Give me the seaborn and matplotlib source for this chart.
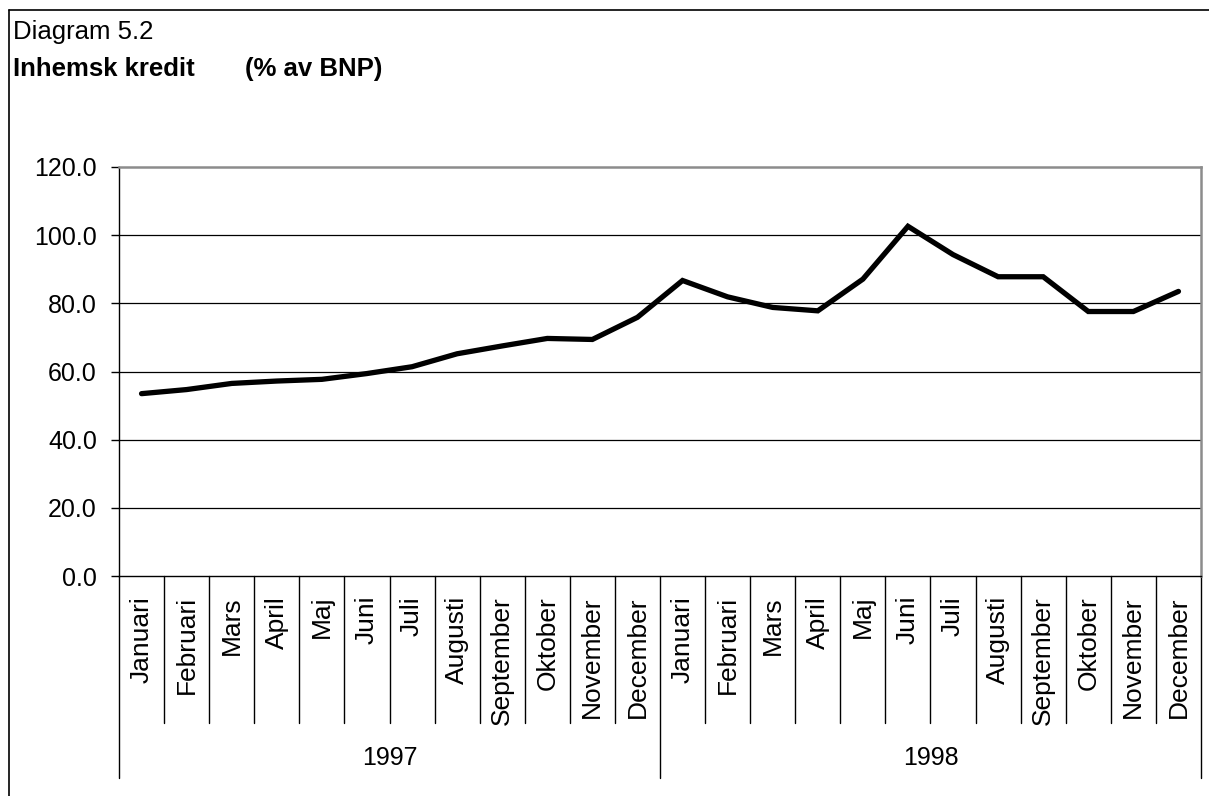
import matplotlib
matplotlib.use("Agg")
import matplotlib.pyplot as plt
from matplotlib.lines import Line2D
import numpy as np
import pandas as pd
import seaborn as sns

# Monthly domestic credit, % of GDP
months = ["Januari", "Februari", "Mars", "April", "Maj", "Juni", "Juli",
          "Augusti", "September", "Oktober", "November", "December"]
years = ["1997", "1998"]
credit_1997 = [53.5, 54.7, 56.5, 57.2, 57.7, 59.4, 61.4, 65.2, 67.5, 69.7, 69.4, 75.9]
credit_1998 = [86.7, 81.9, 78.8, 77.8, 87.1, 102.6, 94.3, 87.8, 87.8, 77.6, 77.6, 83.5]
y_ticks = [0, 20, 40, 60, 80, 100, 120]

sns.set_theme(style="white")
plt.rcParams["font.family"] = ["Liberation Sans", "DejaVu Sans"]

W, H = 1209, 796
fig = plt.figure(figsize=(W / 100, H / 100), dpi=100)
fig.patch.set_facecolor("white")

left, right, top, bottom = 119, 1201, 167, 576
ax = fig.add_axes([left / W, 1 - bottom / H, (right - left) / W, (bottom - top) / H])

df = pd.DataFrame({
    "pos": np.arange(len(months) * len(years)),
    "value": credit_1997 + credit_1998,
})
sns.lineplot(data=df, x="pos", y="value", ax=ax, color="black", linewidth=3.8,
             solid_capstyle="round", solid_joinstyle="miter", sort=False)

n = len(df)
ax.set_xlim(-0.5, n - 0.5)
ax.set_ylim(0, 120)
ax.set_yticks(y_ticks)
ax.set_yticklabels([f"{v:.1f}" for v in y_ticks], fontsize=18, color="black")
ax.tick_params(axis="y", which="major", direction="out", length=6, width=1,
               color="black", pad=10, left=True)
ax.set_xticks([])
ax.set_xlabel("")
ax.set_ylabel("")

ax.grid(False)
for v in y_ticks[1:-1]:
    ax.axhline(v, color="black", linewidth=0.9, zorder=0)

for side in ("left", "bottom"):
    ax.spines[side].set_color("black")
    ax.spines[side].set_linewidth(1.0)
for side in ("top", "right"):
    ax.spines[side].set_color("#8c8c8c")
    ax.spines[side].set_linewidth(1.8)

# Category axis: month separators, month labels and year groups
px = 1.0 / (bottom - top)  # one pixel in axes-y units
xt = ax.get_xaxis_transform()
month_sep_end = -(723 - bottom) * px
year_sep_end = -(778 - bottom) * px
for b in range(n + 1):
    x = b - 0.5
    is_year = b % len(months) == 0
    ax.plot([x, x], [0, year_sep_end if is_year else month_sep_end],
            transform=xt, color="black", linewidth=1.0, clip_on=False)

label_top = -(596 - bottom) * px
for i in range(n):
    ax.text(i, label_top, months[i % len(months)], transform=xt, rotation=90,
            ha="center", va="top", fontsize=19, color="black")

year_y = -(758 - bottom) * px
for k, yr in enumerate(years):
    ax.text(k * len(months) + (len(months) - 1) / 2, year_y, yr, transform=xt,
            ha="center", va="center", fontsize=18, color="black")

# Outer frame (top and left edges)
fig.add_artist(Line2D([9 / W, 9 / W], [0, 1 - 10 / H], transform=fig.transFigure,
                      color="black", linewidth=1.2))
fig.add_artist(Line2D([9 / W, 1], [1 - 10 / H, 1 - 10 / H], transform=fig.transFigure,
                      color="black", linewidth=1.2))

# Headings
fig.text(13 / W, 1 - 39 / H, "Diagram 5.2", fontsize=18.5, color="black",
         ha="left", va="baseline")
fig.text(13 / W, 1 - 76 / H, "Inhemsk kredit", fontsize=18.5, fontweight="bold",
         color="black", ha="left", va="baseline")
fig.text(245 / W, 1 - 76 / H, "(% av BNP)", fontsize=18.5, fontweight="bold",
         color="black", ha="left", va="baseline")

fig.savefig("out.png", dpi=100, facecolor="white")
